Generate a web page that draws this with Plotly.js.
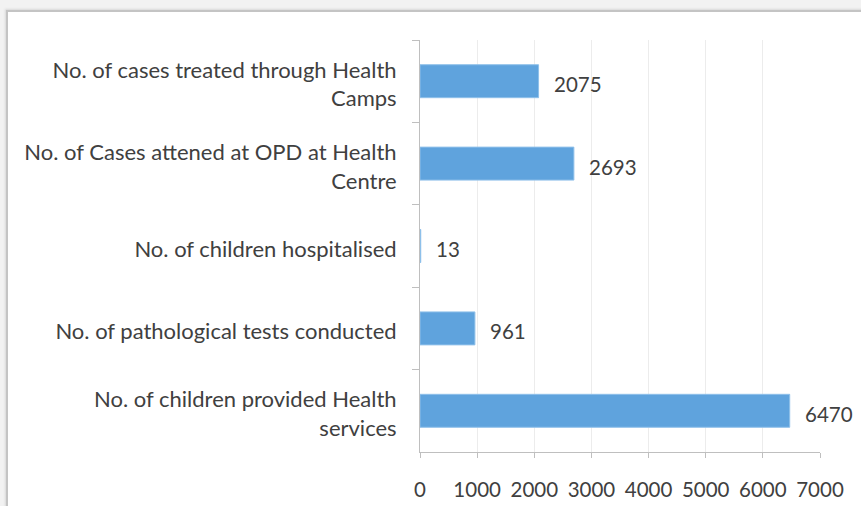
<!DOCTYPE html>
<html><head><meta charset="utf-8">
<script src="https://cdn.plot.ly/plotly-3.0.1.min.js"></script>
<style>
html,body{margin:0;padding:0;background:#f2f2f2;width:861px;height:506px;overflow:hidden;}
#panel{position:absolute;left:6px;top:10px;width:860px;height:500px;background:#fff;border-left:2px solid #c4c4c4;border-top:2px solid #c4c4c4;box-shadow:-1px -1px 2px #d8d8d8;}
#chart{position:absolute;left:0;top:0;width:861px;height:506px;}
</style></head>
<body><div id="panel"></div><div id="chart"></div>
<script>
var categories = [
  "No. of cases treated through Health<br>Camps",
  "No. of Cases attened at OPD at Health<br>Centre",
  "No. of children hospitalised",
  "No. of pathological tests conducted",
  "No. of children provided Health<br>services"
];
var values = [2075, 2693, 13, 961, 6470];
var xTicks = [0,1000,2000,3000,4000,5000,6000,7000];

var fam = "Lato, 'Open Sans', sans-serif";
var catFont = {family: fam, size: 22, color: "#404040"};
var numFont = {family: fam, size: 20.5, color: "#404040"};

var trace = {
  type: "bar", orientation: "h",
  x: values, y: categories,
  marker: {color: "#5fa3dd", line: {color: "#8fc0ea", width: 1}},
  width: 0.4,
  hoverinfo: "none"
};

var annotations = values.map(function(v, i){
  return {x: v, y: categories[i], xref: "x", yref: "y", text: String(v),
    showarrow: false, xanchor: "left", xshift: 13, yshift: -3, font: numFont};
});

var layout = {
  width: 861, height: 506,
  margin: {l: 420, r: 41, t: 40, b: 54},
  paper_bgcolor: "rgba(0,0,0,0)", plot_bgcolor: "rgba(0,0,0,0)",
  font: catFont,
  showlegend: false,
  bargap: 0.6,
  xaxis: {range: [0, 7000], tickvals: xTicks, ticktext: xTicks.map(String),
    showgrid: true, gridcolor: "#ececec", gridwidth: 1,
    showline: true, linecolor: "#bfbfbf", linewidth: 1,
    ticks: "outside", ticklen: 5, tickcolor: "#bfbfbf",
    ticklabelstandoff: 14, zeroline: false, tickfont: numFont},
  yaxis: {autorange: "reversed", type: "category",
    showline: true, linecolor: "#bfbfbf", linewidth: 1,
    ticks: "outside", tickson: "boundaries", ticklen: 7, tickcolor: "#bfbfbf",
    ticklabelstandoff: 18, ticklabelshift: -3, showgrid: false, zeroline: false, tickfont: catFont},
  annotations: annotations
};

Plotly.newPlot("chart", [trace], layout, {displayModeBar: false, staticPlot: true});
</script></body></html>
